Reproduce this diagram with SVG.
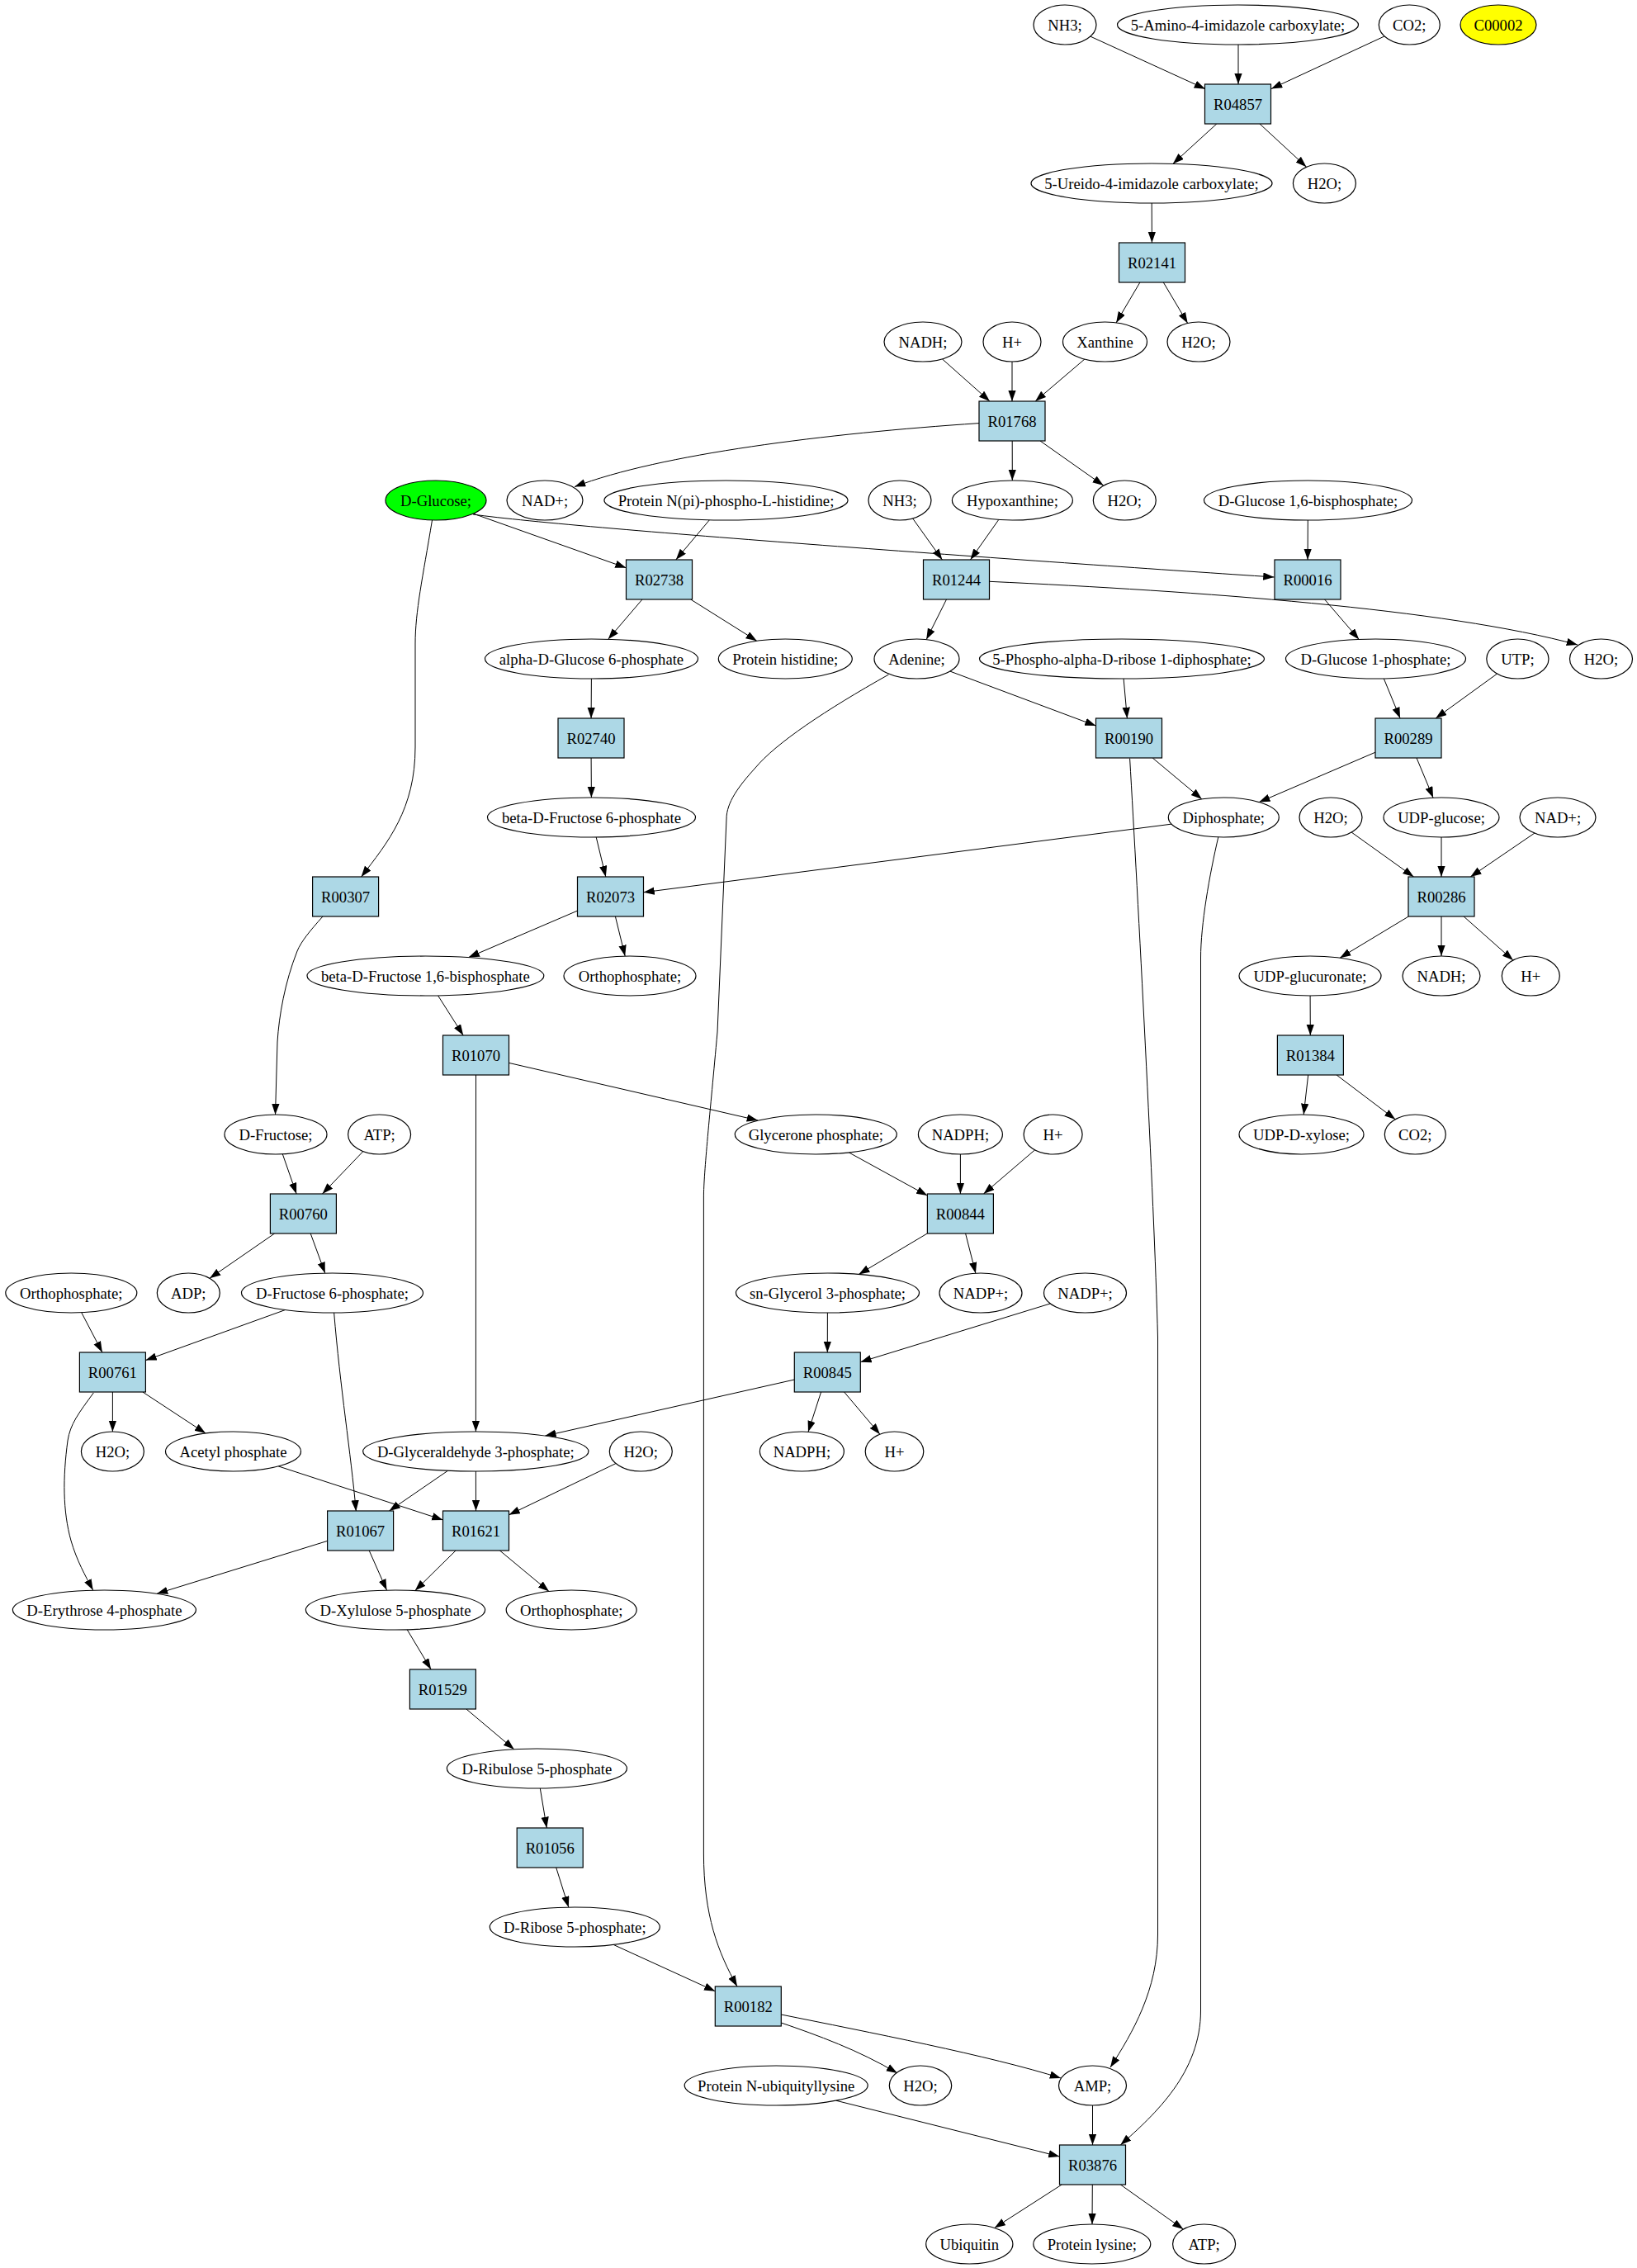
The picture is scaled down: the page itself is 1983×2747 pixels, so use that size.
<svg xmlns="http://www.w3.org/2000/svg" width="1983" height="2747" viewBox="0 0 1983 2747">
<style>
.bg{fill:#fff}
.n ellipse{fill:#fff;stroke:#000;stroke-width:1.2}
.n rect{fill:#add8e6;stroke:#000;stroke-width:1.2}
.n text{font-family:"Liberation Serif","Times New Roman",serif;font-size:18.67px;text-anchor:middle;fill:#000}
#edges path{fill:none;stroke:#000;stroke-width:1;marker-end:url(#ah)}
</style>
<defs>
<marker id="ah" markerWidth="14" markerHeight="10" refX="13.3" refY="4.7" orient="auto" markerUnits="userSpaceOnUse"><path d="M0,0 L13.3,4.7 L0,9.4 z" fill="#000"/></marker>
</defs>
<rect class="bg" x="0" y="0" width="1983" height="2747"/>
<g id="edges">
<path d="M1320.8,44.1 L1460,107.7"/>
<path d="M1500,54 L1500,102"/>
<path d="M1676.9,44 L1540,107.5"/>
<path d="M1473.8,150 L1420.8,198.4"/>
<path d="M1526,150 L1582.5,202.2"/>
<path d="M1395.2,246 L1395.4,294"/>
<path d="M1380.9,342 L1352.1,390.9"/>
<path d="M1409.3,342 L1438.7,391.5"/>
<path d="M1141.4,434.8 L1199,486"/>
<path d="M1226,438 L1226,486"/>
<path d="M1313.9,435 L1254.1,486"/>
<path d="M1186,512.6 C1000,525 800,550 696,589.6"/>
<path d="M1226.2,534 L1226.3,582"/>
<path d="M1260,534 L1336.7,588.1"/>
<path d="M573.3,622.1 L758.5,687.8"/>
<path d="M859.4,629.8 L818.8,678"/>
<path d="M573,623 C700,641 1300,683 1543.5,699"/>
<path d="M1584.3,630 L1584.1,678"/>
<path d="M1105.6,627.9 L1141.4,678"/>
<path d="M1209.8,629.4 L1175.5,678"/>
<path d="M1198.5,704.3 C1450,716 1750,737 1911,781"/>
<path d="M1146.5,726 L1122.2,774.6"/>
<path d="M778,726 L736.7,774.3"/>
<path d="M836.7,726 L916.8,776.3"/>
<path d="M1604.6,726 L1646.2,774.4"/>
<path d="M716.4,822 L716.1,870"/>
<path d="M1150.7,813 L1327.5,879.1"/>
<path d="M1361.1,822 L1365.4,870"/>
<path d="M1676.3,821.9 L1696.1,870"/>
<path d="M1813.6,816 L1739.1,870"/>
<path d="M1076.5,817 C1000,860 940,900 915,930 C895,952 880,972 880,992 L869,1250 C860,1350 852.4,1420 852.4,1450 L852.4,2245 C852.4,2320 870,2365 893,2406"/>
<path d="M716.1,918 L716.4,966"/>
<path d="M1368.6,918.6 C1378,1080 1398,1450 1402.5,1620 L1402.5,2343 C1402.5,2410 1372,2462 1345,2504"/>
<path d="M1396.2,918 L1455.9,967.9"/>
<path d="M1666,911.2 L1525.2,971.6"/>
<path d="M1716,918 L1736.1,966.2"/>
<path d="M1419.3,998.1 L779.5,1080.8"/>
<path d="M1476,1013 C1465,1060 1454.5,1120 1454.5,1160 L1454.5,2435 C1454.5,2510 1400,2560 1357.3,2598"/>
<path d="M523.5,630 C512,700 503,740 503,780 L503,905 C503,980 470,1020 437.6,1062"/>
<path d="M722.2,1014 L733.8,1062"/>
<path d="M1637.1,1008 L1712.5,1062"/>
<path d="M1746,1014 L1746,1062"/>
<path d="M1859,1009 L1781.3,1062"/>
<path d="M699.5,1103.1 L567.6,1159.6"/>
<path d="M745.4,1110 L757.2,1158.1"/>
<path d="M1706.3,1110 L1623.1,1160.2"/>
<path d="M1746,1110 L1746,1158"/>
<path d="M1773.1,1110 L1832.9,1163"/>
<path d="M391,1110 C375,1128 365,1140 360,1152 C345,1190 338,1230 336,1262 L333.5,1350"/>
<path d="M530.6,1205.9 L561.2,1254"/>
<path d="M1587.1,1206 L1587.3,1254"/>
<path d="M616.5,1287.4 L918,1357"/>
<path d="M576.5,1302 L576.4,1734"/>
<path d="M1584.7,1302 L1579.2,1350"/>
<path d="M1619.1,1302 L1690.2,1355.8"/>
<path d="M342.3,1397.8 L359.1,1446"/>
<path d="M439.9,1394.5 L390.5,1446"/>
<path d="M1028.3,1395.9 L1123.4,1448.1"/>
<path d="M1163.4,1398 L1163.4,1446"/>
<path d="M1253.6,1392.8 L1191.5,1446"/>
<path d="M332.6,1494 L254,1548.3"/>
<path d="M376.2,1494 L393.8,1542.1"/>
<path d="M1123.4,1493.9 L1040.3,1543.4"/>
<path d="M1169.6,1494 L1181.9,1542.2"/>
<path d="M98.7,1589.7 L123.9,1638"/>
<path d="M345.6,1586.5 L176.4,1647.6"/>
<path d="M404.6,1589.7 C412,1680 425,1760 431.3,1830.4"/>
<path d="M1002.4,1590 L1002.3,1638"/>
<path d="M1272.4,1578.9 L1042.3,1649.7"/>
<path d="M136.4,1686 L136.4,1734"/>
<path d="M172.9,1686 L249.1,1736.1"/>
<path d="M113.3,1687 C95,1712 85,1725 82,1745 C76,1790 76,1830 86,1866 C93,1890 103,1908 112.7,1926"/>
<path d="M962.3,1671 L660.3,1739.1"/>
<path d="M994.6,1686 L979,1734.3"/>
<path d="M1022.6,1686 L1065.9,1737.2"/>
<path d="M337.2,1775.9 L536.5,1840.9"/>
<path d="M542.5,1781.3 L471.5,1830"/>
<path d="M576.4,1782 L576.5,1830"/>
<path d="M746.1,1772.5 L616.5,1834.8"/>
<path d="M396.6,1866.4 L190,1930.3"/>
<path d="M447.2,1878 L468.5,1926.1"/>
<path d="M552.1,1878 L502.8,1926.6"/>
<path d="M605.4,1878 L665,1927.5"/>
<path d="M493.2,1973.8 L522.1,2022"/>
<path d="M564.9,2070 L622.8,2118.8"/>
<path d="M654.3,2166 L662.3,2214"/>
<path d="M673.7,2262 L688.8,2310.1"/>
<path d="M743.1,2355.4 L866.3,2411.7"/>
<path d="M946.3,2450 C990,2465 1040,2483 1087,2511"/>
<path d="M946.3,2440 C1050,2461 1200,2490 1285,2517"/>
<path d="M1012.7,2544.2 L1283.5,2612"/>
<path d="M1323.5,2550 L1323.5,2598"/>
<path d="M1286.2,2646 L1204.7,2698.4"/>
<path d="M1323.3,2646 L1323,2694"/>
<path d="M1357.3,2646 L1433.4,2700.1"/>
</g>
<g id="c_NH3_a" class="n"><ellipse cx="1290" cy="30" rx="38" ry="24"/><text x="1290" y="36.5">NH3;</text></g>
<g id="c_amino" class="n"><ellipse cx="1499.5" cy="30" rx="146" ry="24"/><text x="1499.5" y="36.5">5-Amino-4-imidazole carboxylate;</text></g>
<g id="c_CO2_a" class="n"><ellipse cx="1707.3" cy="30" rx="37" ry="24"/><text x="1707.3" y="36.5">CO2;</text></g>
<g id="c_C00002" class="n"><ellipse cx="1815" cy="30" rx="46" ry="24" style="fill:#ffff00"/><text x="1815" y="36.5">C00002</text></g>
<g id="c_ureido" class="n"><ellipse cx="1395" cy="222" rx="146" ry="24"/><text x="1395" y="228.5">5-Ureido-4-imidazole carboxylate;</text></g>
<g id="c_H2O_a" class="n"><ellipse cx="1604.4" cy="222" rx="38" ry="24"/><text x="1604.4" y="228.5">H2O;</text></g>
<g id="c_NADH_a" class="n"><ellipse cx="1118" cy="414" rx="47" ry="24"/><text x="1118" y="420.5">NADH;</text></g>
<g id="c_H_a" class="n"><ellipse cx="1226" cy="414" rx="35" ry="24"/><text x="1226" y="420.5">H+</text></g>
<g id="c_xanthine" class="n"><ellipse cx="1338.5" cy="414" rx="51" ry="24"/><text x="1338.5" y="420.5">Xanthine</text></g>
<g id="c_H2O_b" class="n"><ellipse cx="1452" cy="414" rx="38" ry="24"/><text x="1452" y="420.5">H2O;</text></g>
<g id="c_glucose" class="n"><ellipse cx="528" cy="606" rx="61" ry="24" style="fill:#00ff00"/><text x="528" y="612.5">D-Glucose;</text></g>
<g id="c_NAD_a" class="n"><ellipse cx="660" cy="606" rx="46" ry="24"/><text x="660" y="612.5">NAD+;</text></g>
<g id="c_protNpi" class="n"><ellipse cx="879.5" cy="606" rx="147.6" ry="24"/><text x="879.5" y="612.5">Protein N(pi)-phospho-L-histidine;</text></g>
<g id="c_NH3_b" class="n"><ellipse cx="1090" cy="606" rx="38" ry="24"/><text x="1090" y="612.5">NH3;</text></g>
<g id="c_hypox" class="n"><ellipse cx="1226.4" cy="606" rx="73" ry="24"/><text x="1226.4" y="612.5">Hypoxanthine;</text></g>
<g id="c_H2O_c" class="n"><ellipse cx="1362.3" cy="606" rx="38" ry="24"/><text x="1362.3" y="612.5">H2O;</text></g>
<g id="c_g16bp" class="n"><ellipse cx="1584.5" cy="606" rx="126" ry="24"/><text x="1584.5" y="612.5">D-Glucose 1,6-bisphosphate;</text></g>
<g id="c_aG6P" class="n"><ellipse cx="716.5" cy="798" rx="129" ry="24"/><text x="716.5" y="804.5">alpha-D-Glucose 6-phosphate</text></g>
<g id="c_protHis" class="n"><ellipse cx="951.3" cy="798" rx="81" ry="24"/><text x="951.3" y="804.5">Protein histidine;</text></g>
<g id="c_adenine" class="n"><ellipse cx="1110.5" cy="798" rx="51.5" ry="24"/><text x="1110.5" y="804.5">Adenine;</text></g>
<g id="c_prpp" class="n"><ellipse cx="1359" cy="798" rx="172.5" ry="24"/><text x="1359" y="804.5">5-Phospho-alpha-D-ribose 1-diphosphate;</text></g>
<g id="c_g1p" class="n"><ellipse cx="1666.5" cy="798" rx="109" ry="24"/><text x="1666.5" y="804.5">D-Glucose 1-phosphate;</text></g>
<g id="c_UTP" class="n"><ellipse cx="1838.4" cy="798" rx="37.6" ry="24"/><text x="1838.4" y="804.5">UTP;</text></g>
<g id="c_H2O_d" class="n"><ellipse cx="1939.5" cy="798" rx="38" ry="24"/><text x="1939.5" y="804.5">H2O;</text></g>
<g id="c_bF6P" class="n"><ellipse cx="716.5" cy="990" rx="126" ry="24"/><text x="716.5" y="996.5">beta-D-Fructose 6-phosphate</text></g>
<g id="c_diphos" class="n"><ellipse cx="1482.3" cy="990" rx="67" ry="24"/><text x="1482.3" y="996.5">Diphosphate;</text></g>
<g id="c_H2O_e" class="n"><ellipse cx="1612" cy="990" rx="38" ry="24"/><text x="1612" y="996.5">H2O;</text></g>
<g id="c_udpglc" class="n"><ellipse cx="1746" cy="990" rx="70" ry="24"/><text x="1746" y="996.5">UDP-glucose;</text></g>
<g id="c_NAD_b" class="n"><ellipse cx="1887" cy="990" rx="46" ry="24"/><text x="1887" y="996.5">NAD+;</text></g>
<g id="c_bF16BP" class="n"><ellipse cx="515.4" cy="1182" rx="143.4" ry="24"/><text x="515.4" y="1188.5">beta-D-Fructose 1,6-bisphosphate</text></g>
<g id="c_Pi_a" class="n"><ellipse cx="763" cy="1182" rx="80" ry="24"/><text x="763" y="1188.5">Orthophosphate;</text></g>
<g id="c_udpglcA" class="n"><ellipse cx="1587" cy="1182" rx="86" ry="24"/><text x="1587" y="1188.5">UDP-glucuronate;</text></g>
<g id="c_NADH_b" class="n"><ellipse cx="1746" cy="1182" rx="47" ry="24"/><text x="1746" y="1188.5">NADH;</text></g>
<g id="c_H_b" class="n"><ellipse cx="1854.3" cy="1182" rx="35" ry="24"/><text x="1854.3" y="1188.5">H+</text></g>
<g id="c_fru" class="n"><ellipse cx="334" cy="1374" rx="62" ry="24"/><text x="334" y="1380.5">D-Fructose;</text></g>
<g id="c_ATP_a" class="n"><ellipse cx="459.6" cy="1374" rx="38" ry="24"/><text x="459.6" y="1380.5">ATP;</text></g>
<g id="c_dhap" class="n"><ellipse cx="988.3" cy="1374" rx="98" ry="24"/><text x="988.3" y="1380.5">Glycerone phosphate;</text></g>
<g id="c_NADPH_a" class="n"><ellipse cx="1163.4" cy="1374" rx="51" ry="24"/><text x="1163.4" y="1380.5">NADPH;</text></g>
<g id="c_H_c" class="n"><ellipse cx="1275.6" cy="1374" rx="35.5" ry="24"/><text x="1275.6" y="1380.5">H+</text></g>
<g id="c_udpxyl" class="n"><ellipse cx="1576.5" cy="1374" rx="75.5" ry="24"/><text x="1576.5" y="1380.5">UDP-D-xylose;</text></g>
<g id="c_CO2_b" class="n"><ellipse cx="1714.3" cy="1374" rx="37" ry="24"/><text x="1714.3" y="1380.5">CO2;</text></g>
<g id="c_Pi_b" class="n"><ellipse cx="86.3" cy="1566" rx="79.5" ry="24"/><text x="86.3" y="1572.5">Orthophosphate;</text></g>
<g id="c_ADP" class="n"><ellipse cx="228.3" cy="1566" rx="38" ry="24"/><text x="228.3" y="1572.5">ADP;</text></g>
<g id="c_F6P" class="n"><ellipse cx="402.5" cy="1566" rx="110" ry="24"/><text x="402.5" y="1572.5">D-Fructose 6-phosphate;</text></g>
<g id="c_g3p" class="n"><ellipse cx="1002.5" cy="1566" rx="111" ry="24"/><text x="1002.5" y="1572.5">sn-Glycerol 3-phosphate;</text></g>
<g id="c_NADP_a" class="n"><ellipse cx="1188" cy="1566" rx="50" ry="24"/><text x="1188" y="1572.5">NADP+;</text></g>
<g id="c_NADP_b" class="n"><ellipse cx="1314.5" cy="1566" rx="50" ry="24"/><text x="1314.5" y="1572.5">NADP+;</text></g>
<g id="c_H2O_f" class="n"><ellipse cx="136.4" cy="1758" rx="38" ry="24"/><text x="136.4" y="1764.5">H2O;</text></g>
<g id="c_acp" class="n"><ellipse cx="282.5" cy="1758" rx="82" ry="24"/><text x="282.5" y="1764.5">Acetyl phosphate</text></g>
<g id="c_gap" class="n"><ellipse cx="576.3" cy="1758" rx="136.6" ry="24"/><text x="576.3" y="1764.5">D-Glyceraldehyde 3-phosphate;</text></g>
<g id="c_H2O_g" class="n"><ellipse cx="776.3" cy="1758" rx="38" ry="24"/><text x="776.3" y="1764.5">H2O;</text></g>
<g id="c_NADPH_b" class="n"><ellipse cx="971.4" cy="1758" rx="51" ry="24"/><text x="971.4" y="1764.5">NADPH;</text></g>
<g id="c_H_d" class="n"><ellipse cx="1083.5" cy="1758" rx="35.3" ry="24"/><text x="1083.5" y="1764.5">H+</text></g>
<g id="c_e4p" class="n"><ellipse cx="126.4" cy="1950" rx="111" ry="24"/><text x="126.4" y="1956.5">D-Erythrose 4-phosphate</text></g>
<g id="c_xu5p" class="n"><ellipse cx="479" cy="1950" rx="108.6" ry="24"/><text x="479" y="1956.5">D-Xylulose 5-phosphate</text></g>
<g id="c_Pi_c" class="n"><ellipse cx="692.2" cy="1950" rx="79" ry="24"/><text x="692.2" y="1956.5">Orthophosphate;</text></g>
<g id="c_ru5p" class="n"><ellipse cx="650.4" cy="2142" rx="109" ry="24"/><text x="650.4" y="2148.5">D-Ribulose 5-phosphate</text></g>
<g id="c_r5p" class="n"><ellipse cx="696.3" cy="2334" rx="103" ry="24"/><text x="696.3" y="2340.5">D-Ribose 5-phosphate;</text></g>
<g id="c_protUb" class="n"><ellipse cx="940.2" cy="2526" rx="111" ry="24"/><text x="940.2" y="2532.5">Protein N-ubiquityllysine</text></g>
<g id="c_H2O_h" class="n"><ellipse cx="1115" cy="2526" rx="37.7" ry="24"/><text x="1115" y="2532.5">H2O;</text></g>
<g id="c_AMP" class="n"><ellipse cx="1323.5" cy="2526" rx="41" ry="24"/><text x="1323.5" y="2532.5">AMP;</text></g>
<g id="c_ubq" class="n"><ellipse cx="1174.3" cy="2718" rx="52.6" ry="24"/><text x="1174.3" y="2724.5">Ubiquitin</text></g>
<g id="c_protLys" class="n"><ellipse cx="1322.8" cy="2718" rx="71" ry="24"/><text x="1322.8" y="2724.5">Protein lysine;</text></g>
<g id="c_ATP_b" class="n"><ellipse cx="1458.6" cy="2718" rx="38" ry="24"/><text x="1458.6" y="2724.5">ATP;</text></g>
<g id="R04857" class="n"><rect x="1459.5" y="102" width="80" height="48"/><text x="1499.5" y="132.5">R04857</text></g>
<g id="R02141" class="n"><rect x="1355.5" y="294" width="80" height="48"/><text x="1395.5" y="324.5">R02141</text></g>
<g id="R01768" class="n"><rect x="1186" y="486" width="80" height="48"/><text x="1226" y="516.5">R01768</text></g>
<g id="R02738" class="n"><rect x="758.5" y="678" width="80" height="48"/><text x="798.5" y="708.5">R02738</text></g>
<g id="R01244" class="n"><rect x="1118.5" y="678" width="80" height="48"/><text x="1158.5" y="708.5">R01244</text></g>
<g id="R00016" class="n"><rect x="1544" y="678" width="80" height="48"/><text x="1584" y="708.5">R00016</text></g>
<g id="R02740" class="n"><rect x="676" y="870" width="80" height="48"/><text x="716" y="900.5">R02740</text></g>
<g id="R00190" class="n"><rect x="1327.5" y="870" width="80" height="48"/><text x="1367.5" y="900.5">R00190</text></g>
<g id="R00289" class="n"><rect x="1666" y="870" width="80" height="48"/><text x="1706" y="900.5">R00289</text></g>
<g id="R00307" class="n"><rect x="378.6" y="1062" width="80" height="48"/><text x="418.6" y="1092.5">R00307</text></g>
<g id="R02073" class="n"><rect x="699.5" y="1062" width="80" height="48"/><text x="739.5" y="1092.5">R02073</text></g>
<g id="R00286" class="n"><rect x="1706" y="1062" width="80" height="48"/><text x="1746" y="1092.5">R00286</text></g>
<g id="R01070" class="n"><rect x="536.5" y="1254" width="80" height="48"/><text x="576.5" y="1284.5">R01070</text></g>
<g id="R01384" class="n"><rect x="1547.4" y="1254" width="80" height="48"/><text x="1587.4" y="1284.5">R01384</text></g>
<g id="R00760" class="n"><rect x="327.4" y="1446" width="80" height="48"/><text x="367.4" y="1476.5">R00760</text></g>
<g id="R00844" class="n"><rect x="1123.4" y="1446" width="80" height="48"/><text x="1163.4" y="1476.5">R00844</text></g>
<g id="R00761" class="n"><rect x="96.4" y="1638" width="80" height="48"/><text x="136.4" y="1668.5">R00761</text></g>
<g id="R00845" class="n"><rect x="962.3" y="1638" width="80" height="48"/><text x="1002.3" y="1668.5">R00845</text></g>
<g id="R01067" class="n"><rect x="396.6" y="1830" width="80" height="48"/><text x="436.6" y="1860.5">R01067</text></g>
<g id="R01621" class="n"><rect x="536.5" y="1830" width="80" height="48"/><text x="576.5" y="1860.5">R01621</text></g>
<g id="R01529" class="n"><rect x="496.4" y="2022" width="80" height="48"/><text x="536.4" y="2052.5">R01529</text></g>
<g id="R01056" class="n"><rect x="626.2" y="2214" width="80" height="48"/><text x="666.2" y="2244.5">R01056</text></g>
<g id="R00182" class="n"><rect x="866.3" y="2406" width="80" height="48"/><text x="906.3" y="2436.5">R00182</text></g>
<g id="R03876" class="n"><rect x="1283.5" y="2598" width="80" height="48"/><text x="1323.5" y="2628.5">R03876</text></g>
</svg>
